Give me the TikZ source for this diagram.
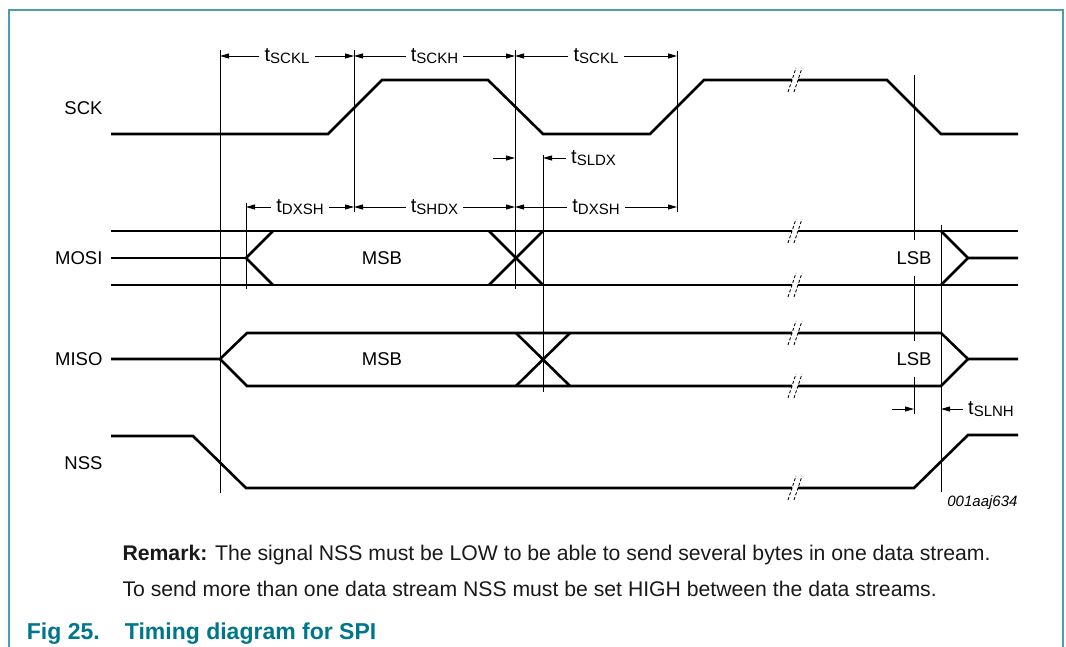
\documentclass[tikz,border=0pt]{standalone}
\usepackage{fontspec}
\setmainfont{Liberation Sans}
\usetikzlibrary{arrows.meta}
\definecolor{petrol}{RGB}{0, 118, 138}
\definecolor{frameteal}{RGB}{80, 155, 175}
\newcommand{\tsub}[1]{{\fontsize{20}{22}\selectfont t}\raisebox{-1.5pt}{\fontsize{15}{16}\selectfont #1}}

\begin{document}
\begin{tikzpicture}[x=100pt, y=-100pt,
        font=\fontsize{18.5}{22}\selectfont,
        signal/.style={line width=2.6pt, line join=miter},
        edge/.style={line width=0.9pt},
        dimarrow/.style={line width=0.9pt, -{Triangle[length=9pt, width=5pt]}},
        brkmark/.style={line width=0.9pt, dash pattern=on 3pt off 2pt},
        tlabel/.style={inner xsep=5pt, inner ysep=0pt},
        bitlabel/.style={fill=white, inner xsep=0pt, inner ysep=11pt}]
    \useasboundingbox (0,0) rectangle (10.66,6.47);
    \draw[frameteal, line width=1.2pt] (0.09,6.50) -- (0.09,0.10) -- (10.63,0.10) -- (10.63,6.50);

    % timing edges
    \draw[edge] (2.20,0.50) coordinate (e1) -- (2.20,4.93);
    \draw[edge] (3.54,0.50) coordinate (e2) -- (3.54,2.12);
    \draw[edge] (5.15,0.50) coordinate (e3) -- (5.15,2.89);
    \draw[edge] (6.77,0.51) coordinate (e4) -- (6.77,2.12);
    \draw[edge] (2.46,2.03) coordinate (e5) -- (2.46,2.89);
    \draw[edge] (5.43,1.55) coordinate (e6) -- (5.43,3.92);
    \draw[edge] (9.14,0.75) coordinate (e7) -- (9.14,4.14);
    \draw[edge] (9.41,2.25) coordinate (e8) -- (9.41,4.92);

    % signal names
    \node[anchor=east] (sck)  at (1.06,1.08) {SCK};
    \node[anchor=east] (mosi) at (1.06,2.58) {MOSI};
    \node[anchor=east] (miso) at (1.06,3.59) {MISO};
    \node[anchor=east] (nss)  at (1.06,4.63) {NSS};

    % SCK
    \draw[signal] (1.11,1.34) -- (3.28,1.34) -- (3.82,0.80) -- (4.88,0.80) -- (5.43,1.34) -- (6.50,1.34)
                  -- (7.04,0.80) -- (7.92,0.80) (7.98,0.80) -- (8.87,0.80) -- (9.41,1.34) -- (10.18,1.34);
    % MOSI
    \draw[signal] (1.11,2.31) -- (7.92,2.31) (7.98,2.31) -- (10.18,2.31);
    \draw[signal] (1.11,2.85) -- (7.92,2.85) (7.98,2.85) -- (10.18,2.85);
    \draw[signal] (1.11,2.58) -- (2.46,2.58);
    \draw[signal] (2.73,2.31) -- (2.46,2.58) -- (2.73,2.85);
    \draw[signal] (4.89,2.31) -- (5.43,2.85) (4.89,2.85) -- (5.43,2.31);
    \draw[signal] (9.41,2.31) -- (9.68,2.58) -- (9.41,2.85) (9.68,2.58) -- (10.18,2.58);
    % MISO
    \draw[signal] (1.11,3.59) -- (2.20,3.59) -- (2.47,3.33) -- (7.92,3.33) (7.98,3.33) -- (9.41,3.33) -- (9.68,3.59) -- (10.18,3.59);
    \draw[signal] (2.20,3.59) -- (2.47,3.86) -- (7.92,3.86) (7.98,3.86) -- (9.41,3.86) -- (9.68,3.59);
    \draw[signal] (5.16,3.33) -- (5.70,3.86) (5.16,3.86) -- (5.70,3.33);
    % NSS
    \draw[signal] (1.11,4.36) -- (1.93,4.36) -- (2.46,4.88) -- (7.92,4.88) (7.98,4.88) -- (9.14,4.88) -- (9.68,4.35) -- (10.18,4.35);

    % breaks
    \draw[brkmark] (7.88,0.92) -- (7.96,0.68) (7.94,0.92) -- (8.02,0.68);
    \draw[brkmark] (7.88,2.43) -- (7.96,2.19) (7.94,2.43) -- (8.02,2.19);
    \draw[brkmark] (7.88,2.97) -- (7.96,2.73) (7.94,2.97) -- (8.02,2.73);
    \draw[brkmark] (7.88,3.45) -- (7.96,3.21) (7.94,3.45) -- (8.02,3.21);
    \draw[brkmark] (7.88,3.98) -- (7.96,3.74) (7.94,3.98) -- (8.02,3.74);
    \draw[brkmark] (7.88,5.00) -- (7.96,4.76) (7.94,5.00) -- (8.02,4.76);

    % bits
    \node (mosimsb) at (3.82,2.58) {MSB};
    \node (misomsb) at (3.82,3.59) {MSB};
    \node[bitlabel] (mosilsb) at (9.14,2.58) {LSB};
    \node[bitlabel] (misolsb) at (9.14,3.59) {LSB};

    % timing parameters
    \node[tlabel] (tsckla) at (2.87,0.56) {\tsub{SCKL}};
    \draw[dimarrow] (tsckla.west) -- (tsckla.west -| e1);
    \draw[dimarrow] (tsckla.east) -- (tsckla.east -| e2);
    \node[tlabel] (tsckh) at (4.345,0.56) {\tsub{SCKH}};
    \draw[dimarrow] (tsckh.west) -- (tsckh.west -| e2);
    \draw[dimarrow] (tsckh.east) -- (tsckh.east -| e3);
    \node[tlabel] (tscklb) at (5.96,0.56) {\tsub{SCKL}};
    \draw[dimarrow] (tscklb.west) -- (tscklb.west -| e3);
    \draw[dimarrow] (tscklb.east) -- (tscklb.east -| e4);

    \coordinate (sldxa) at (4.93,1.58);
    \draw[dimarrow] (sldxa) -- (sldxa -| e3);
    \node[tlabel, anchor=west] (tsldx) at (5.66,1.58) {\tsub{SLDX}};
    \draw[dimarrow] (tsldx.west) -- (tsldx.west -| e6);

    \node[tlabel] (tdxsha) at (3.00,2.07) {\tsub{DXSH}};
    \draw[dimarrow] (tdxsha.west) -- (tdxsha.west -| e5);
    \draw[dimarrow] (tdxsha.east) -- (tdxsha.east -| e2);
    \node[tlabel] (tshdx) at (4.345,2.07) {\tsub{SHDX}};
    \draw[dimarrow] (tshdx.west) -- (tshdx.west -| e2);
    \draw[dimarrow] (tshdx.east) -- (tshdx.east -| e3);
    \node[tlabel] (tdxshb) at (5.96,2.07) {\tsub{DXSH}};
    \draw[dimarrow] (tdxshb.west) -- (tdxshb.west -| e3);
    \draw[dimarrow] (tdxshb.east) -- (tdxshb.east -| e4);

    \coordinate (slnha) at (8.92,4.09);
    \draw[dimarrow] (slnha) -- (slnha -| e7);
    \node[tlabel, anchor=west] (tslnh) at (9.63,4.09) {\tsub{SLNH}};
    \draw[dimarrow] (tslnh.west) -- (tslnh.west -| e8);

    \node[anchor=east, font=\itshape\fontsize{15}{18}\selectfont] (figcode) at (10.21,5.03) {001aaj634};

    % remark and caption
    \node[anchor=base west, text=black!90, font=\fontsize{21.2}{24}\selectfont] (remarka) at (1.19,5.60) {\textbf{Remark:} The signal NSS must be LOW to be able to send several bytes in one data stream.};
    \node[anchor=base west, text=black!90, font=\fontsize{21.2}{24}\selectfont] (remarkb) at (1.19,5.96) {To send more than one data stream NSS must be set HIGH between the data streams.};
    \node[anchor=base west, text=petrol, font=\bfseries\fontsize{23}{25}\selectfont] (figno)    at (0.234,6.39) {Fig 25.};
    \node[anchor=base west, text=petrol, font=\bfseries\fontsize{23}{25}\selectfont] (figtitle) at (1.214,6.39) {Timing diagram for SPI};
\end{tikzpicture}
\end{document}
